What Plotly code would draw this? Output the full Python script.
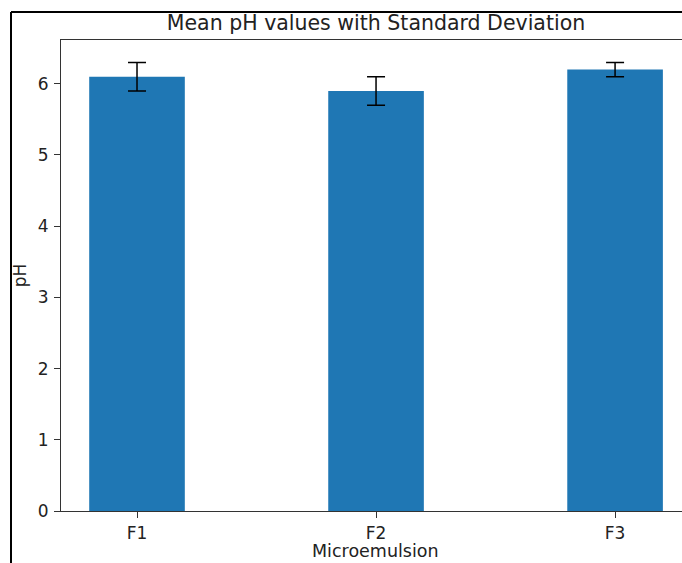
import plotly.graph_objects as go

categories = ["F1", "F2", "F3"]
means = [6.1, 5.9, 6.2]
stds = [0.2, 0.2, 0.1]
y_ticks = [0, 1, 2, 3, 4, 5, 6]

W, H = 682, 563
L, T, B = 61, 40, 52
pw = W - L
ph = H - T - B

fig = go.Figure()
fig.add_trace(go.Bar(
    x=[0, 1, 2], y=means, width=0.4,
    marker=dict(color="#1f77b4", line=dict(width=0)),
    error_y=dict(type="data", array=stds, visible=True, color="black",
                 thickness=1.5, width=9),
))

def px_x(p):
    return (p - L) / pw

def px_y(p):
    return (H - B - p) / ph

fig.update_layout(
    width=W, height=H,
    margin=dict(l=L, r=0, t=T, b=B, pad=0),
    paper_bgcolor="white", plot_bgcolor="white",
    font=dict(family="DejaVu Sans", size=17, color="#222"),
    showlegend=False,
    title=dict(text="Mean pH values with Standard Deviation",
               x=px_x(376), xref="paper", xanchor="center",
               yref="container", y=1 - 23 / H, yanchor="middle",
               font=dict(size=20.5, color="#222")),
    xaxis=dict(range=[-0.318, 2.28], tickmode="array", tickvals=[0, 1, 2],
               ticktext=categories, showgrid=False, zeroline=False,
               showline=True, linecolor="#333", linewidth=1.2, mirror=True,
               ticks="outside", ticklen=6, tickcolor="#333", tickwidth=1.2,
               tickfont=dict(size=17)),
    yaxis=dict(range=[0, 6.615], tickmode="array", tickvals=y_ticks,
               showgrid=False, zeroline=False,
               showline=True, linecolor="#333", linewidth=1.2,
               ticks="outside", ticklen=6, tickcolor="#333", tickwidth=1.2,
               tickfont=dict(size=17), ticklabelstandoff=2,
               title=dict(text="pH", standoff=6, font=dict(size=17))),
    annotations=[
        dict(text="Microemulsion", xref="paper", yref="paper",
             x=px_x(375), y=px_y(563), xanchor="center", yanchor="bottom",
             showarrow=False, font=dict(size=17.5, color="#222")),
    ],
    shapes=[
        dict(type="line", xref="paper", yref="paper",
             x0=px_x(11), x1=px_x(11), y0=px_y(575), y1=px_y(12),
             line=dict(color="black", width=2)),
        dict(type="line", xref="paper", yref="paper",
             x0=px_x(11), x1=px_x(700), y0=px_y(12), y1=px_y(12),
             line=dict(color="black", width=2)),
    ],
)

fig.write_html("out.html", config={"displayModeBar": False},
               post_script="document.body.style.margin='0';document.body.style.overflow='hidden';")
